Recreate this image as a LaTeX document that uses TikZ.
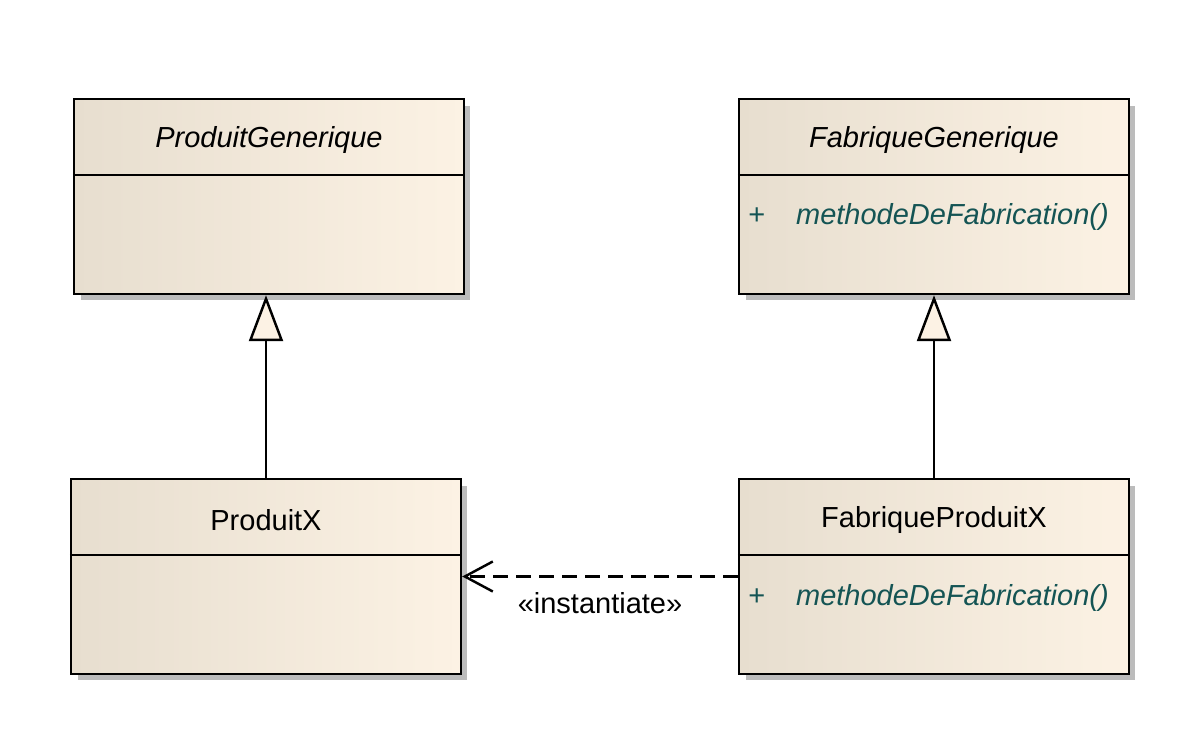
\documentclass[tikz,border=0pt]{standalone}
\usepackage{fontspec}
\setmainfont{Liberation Sans}
\usepackage{xcolor}
\usepackage{tikz}
\usetikzlibrary{arrows.meta,positioning,calc,shadows}
\definecolor{BoxLeft}{RGB}{231,222,207}
\definecolor{BoxMid}{RGB}{249,239,224}
\definecolor{BoxRight}{RGB}{252,242,228}
\definecolor{OpTeal}{RGB}{20,84,84}
\definecolor{ShadowGray}{RGB}{188,188,188}

\tikzset{
  classbox/.style={draw, line width=1.4pt, rectangle, inner sep=0pt,
    minimum width=7.8cm, minimum height=3.9cm,
    left color=BoxLeft, middle color=BoxMid, right color=BoxRight,
    drop shadow={shadow xshift=0.13cm, shadow yshift=-0.13cm, fill=ShadowGray, opacity=1}},
  classname/.style={font=\fontsize{16.5}{20}\selectfont},
  oper/.style={font=\fontsize{16.5}{20}\selectfont\itshape, text=OpTeal, anchor=west, inner sep=0pt},
  visib/.style={font=\fontsize{16.5}{20}\selectfont, text=OpTeal, inner sep=0pt},
  compart/.style={line width=1.4pt},
  generalise/.style={line width=1.4pt, -{Triangle[open, fill=BoxRight, length=0.92cm, width=0.68cm]}},
  instantiate/.style={line width=1.4pt, dash pattern=on 0.3cm off 0.16cm,
    -{Straight Barb[length=0.56cm, width=0.6cm]}}
}

\begin{document}
\begin{tikzpicture}[x=0.02cm,y=-0.02cm]
  \useasboundingbox (0,0) rectangle (1200,746);

  % classes
  \node[classbox] (pg) at (269,196.5) {};
  \node[classbox] (fg) at (934,196.5) {};
  \node[classbox] (px) at (266,576.5) {};
  \node[classbox] (fpx) at (934,576.5) {};

  % compartments
  \foreach \c in {pg,fg,px,fpx} {
    \draw[compart] ($(\c.north west)+(0,77)$) -- ($(\c.north east)+(0,77)$);
  }

  % names
  \node[classname, font=\fontsize{16.5}{20}\selectfont\itshape] (pgname) at ($(pg.north)+(0,42)$) {ProduitGenerique};
  \node[classname, font=\fontsize{16.5}{20}\selectfont\itshape] (fgname) at ($(fg.north)+(0,42)$) {FabriqueGenerique};
  \node[classname] (pxname) at ($(px.north)+(0,42)$) {ProduitX};
  \node[classname] (fpxname) at ($(fpx.north)+(0,42)$) {FabriqueProduitX};

  % operations
  \node[visib] (fgvis) at ($(fg.north west)+(19,118)$) {+};
  \node[oper] (fgop) at ($(fg.north west)+(58,119)$) {methodeDeFabrication()};
  \node[visib] (fpxvis) at ($(fpx.north west)+(19,119)$) {+};
  \node[oper] (fpxop) at ($(fpx.north west)+(58,120)$) {methodeDeFabrication()};

  % relations
  \draw[generalise] (px.north) -- (px.north |- pg.south);
  \draw[generalise] (fpx.north) -- (fg.south);
  \draw[instantiate] (fpx.west) -- (px.east)
    node[classname, midway, below=5pt] (instlabel) {«instantiate»};
\end{tikzpicture}
\end{document}
